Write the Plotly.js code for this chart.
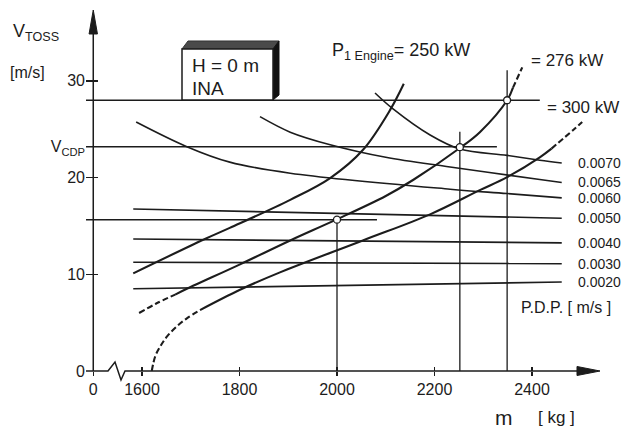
<!DOCTYPE html>
<html><head><meta charset="utf-8">
<script src="https://cdn.plot.ly/plotly-3.0.1.min.js"></script>
<style>html,body{margin:0;padding:0;background:#fff}#chart{width:625px;height:428px}</style>
</head><body><div id="chart"></div>
<script>
// ---------------- data ----------------
const xTickVals = [1500, 1600, 1800, 2000, 2200, 2400];
const xTickText = ['0', '1600', '1800', '2000', '2200', '2400'];
const yTickVals = [0, 10, 20, 23.2, 30];
const yTickText = ['0', '10', '20', 'V<sub>CDP</sub>', '30'];

// engine power curves (m [kg], V [m/s])
const p250M = [1582, 1729, 1780, 1904, 1986, 2053, 2109, 2137];
const p250V = [10.1, 13.65, 14.8, 17.7, 19.95, 22.85, 27.0, 29.7];
const p276M = [1594, 1630, 1668, 1692, 1800, 1904, 1996, 2100, 2156, 2252, 2293, 2349, 2361, 2380];
const p276V = [6.0, 7.0, 7.9, 8.5, 11.0, 13.5, 15.6, 18.1, 19.75, 23.06, 24.7, 28.0, 29.3, 31.4];
const p300M = [1620, 1627, 1637, 1651, 1671, 1692, 1719, 1801, 1883, 2053, 2191, 2293, 2349, 2416, 2440, 2484, 2503];
const p300V = [0, 1.5, 2.5, 3.55, 4.6, 5.45, 6.3, 8.4, 10.2, 13.5, 16.2, 18.7, 20.05, 22.1, 23.0, 24.9, 25.75];

// P.D.P. curves
const pdpLabels = ['0.0070', '0.0065', '0.0060', '0.0050', '0.0040', '0.0030', '0.0020'];
const pdp70M = [2078, 2115, 2191, 2252, 2349, 2416, 2461];
const pdp70V = [28.75, 27.1, 24.4, 22.95, 22.3, 21.8, 21.5];
const pdp65M = [1842, 1904, 1986, 2100, 2232, 2416, 2461];
const pdp65V = [26.3, 24.7, 23.4, 22.1, 21.1, 19.8, 19.5];
const pdp60M = [1588, 1692, 1780, 1904, 2232, 2349, 2461];
const pdp60V = [25.75, 23.2, 21.6, 20.45, 18.8, 18.35, 17.9];
const pdp50M = [1582, 2461];
const pdp50V = [16.75, 15.8];
const pdp40M = [1582, 2461];
const pdp40V = [13.65, 13.25];
const pdp30M = [1582, 2461];
const pdp30V = [11.25, 11.1];
const pdp20M = [1582, 2461];
const pdp20V = [8.5, 9.2];

// reference lines
const vTossM = [1485.1, 2416];
const vToss = 28.0;
const vCdpM = [1485.1, 2328];
const vCdp = 23.2;
const vLowM = [1485.1, 2082];
const vLow = 15.65;
const vertM = [2000, 2252, 2349];
const vertTop = [15.65, 24.75, 31.1];
const ptM = [2000, 2252, 2349];
const ptV = [15.65, 23.15, 28.0];

// ---------------- geometry ----------------
const L = 86, T = 10, W = 514, H = 361;
const X0 = 1485.1, X1 = 2539.5, Y1 = 37.33;
const fx = px => (px - L) / W;
const fy = py => (T + H - py) / H;
const INK = '#1c1c1c';
const FONT = 'Liberation Sans, Arial, sans-serif';

const traces = [];
function line(xs, ys, w, dash) {
  traces.push({x: xs, y: ys, type: 'scatter', mode: 'lines', hoverinfo: 'skip', showlegend: false,
    line: {color: INK, width: w, dash: dash || 'solid', shape: xs.length > 2 ? 'spline' : 'linear', smoothing: 1}});
}
function curve(ms, vs, w, solidFrom, solidTo) {
  const head = [[], []], mid = [[], []], tail = [[], []];
  ms.forEach((m, i) => {
    if (m <= solidFrom) { head[0].push(m); head[1].push(vs[i]); }
    if (m >= solidFrom && m <= solidTo) { mid[0].push(m); mid[1].push(vs[i]); }
    if (m >= solidTo) { tail[0].push(m); tail[1].push(vs[i]); }
  });
  if (head[0].length > 1) line(head[0], head[1], w, '6px,3px');
  line(mid[0], mid[1], w);
  if (tail[0].length > 1) line(tail[0], tail[1], w, '6px,3px');
}

// reference lines
line(vTossM, [vToss, vToss], 1.5);
line(vCdpM, [vCdp, vCdp], 1.5);
line(vLowM, [vLow, vLow], 1.5);
vertM.forEach((m, i) => line([m, m], [0, vertTop[i]], 1.3));

// P.D.P.
const pdpSets = [[pdp70M, pdp70V], [pdp65M, pdp65V], [pdp60M, pdp60V], [pdp50M, pdp50V],
                 [pdp40M, pdp40V], [pdp30M, pdp30V], [pdp20M, pdp20V]];
pdpSets.forEach(s => line(s[0], s[1], 1.6));

// power curves
curve(p250M, p250V, 2.1, -1, 1e9);
curve(p276M, p276V, 2.1, 1668, 2361);
curve(p300M, p300V, 2.1, 1719, 2440);

traces.push({x: ptM, y: ptV, type: 'scatter', mode: 'markers', hoverinfo: 'skip', showlegend: false,
  marker: {size: 7, color: '#fff', line: {color: INK, width: 1.3}}});

// ---------------- shapes ----------------
const path = pts => pts.map((p, i) => (i ? 'L' : 'M') + fx(p[0]).toFixed(5) + ',' + fy(p[1]).toFixed(5)).join(' ');
const axX = L + (1500 - X0) * W / (X1 - X0);
const axY = T + H;
const shapes = [
  {type: 'path', xref: 'paper', yref: 'paper', line: {color: INK, width: 1.5},
   path: path([[86, axY], [108, axY], [115, axY - 9], [121, axY + 9], [125, axY], [590, axY]])},
  {type: 'path', xref: 'paper', yref: 'paper', line: {color: INK, width: 1}, fillcolor: INK,
   path: path([[600, axY], [577, axY - 4.5], [577, axY + 4.5]]) + ' Z'},
  {type: 'path', xref: 'paper', yref: 'paper', line: {color: INK, width: 1.5},
   path: path([[axX, axY], [axX, 28]])},
  {type: 'path', xref: 'paper', yref: 'paper', line: {color: INK, width: 1}, fillcolor: INK,
   path: path([[axX, 10], [axX - 4.2, 34], [axX + 4.2, 34]]) + ' Z'},
  // the "H = 0 m / INA" box
  {type: 'path', xref: 'paper', yref: 'paper', line: {color: '#333', width: 1}, fillcolor: '#4a4a4a',
   path: path([[182, 49], [188, 41], [279, 41], [273, 49]]) + ' Z'},
  {type: 'path', xref: 'paper', yref: 'paper', line: {color: '#111', width: 1}, fillcolor: '#111',
   path: path([[273, 49], [279, 41], [279, 95], [273, 100]]) + ' Z'},
  {type: 'rect', xref: 'paper', yref: 'paper', x0: fx(182), x1: fx(273), y0: fy(100), y1: fy(49),
   fillcolor: '#fff', line: {color: INK, width: 1.5}}
];

// ---------------- annotations ----------------
function txt(text, px, py, size, xanchor, yref, yval) {
  return {text: text, xref: 'paper', yref: yref || 'paper', x: fx(px), y: yref ? yval : fy(py),
    xanchor: xanchor || 'left', yanchor: 'middle', showarrow: false,
    font: {family: FONT, size: size, color: INK}};
}
const annotations = [
  txt('V<sub>TOSS</sub>', 11, 33, 18),
  txt('[m/s]', 8, 72, 16),
  txt('P<sub>1 Engine</sub>= 250 kW', 330, 51, 18),
  txt('= 276 kW', 529, 60, 17),
  txt('= 300 kW', 545, 108, 17),
  txt('P.D.P. [ m/s ]', 519, 307, 16),
  txt('m', 504, 417, 21, 'center'),
  txt('[ kg ]', 536, 417, 17),
  txt('H = 0 m', 190, 65, 19),
  txt('INA', 190, 88, 19)
];
pdpSets.forEach((s, i) => annotations.push(txt(pdpLabels[i], 576, 0, 14, 'left', 'y', s[1][s[1].length - 1])));

const layout = {
  width: 625, height: 428,
  margin: {l: L, r: 625 - L - W, t: T, b: 428 - T - H},
  paper_bgcolor: '#fff', plot_bgcolor: '#fff',
  showlegend: false,
  font: {family: FONT, color: INK},
  xaxis: {range: [X0, X1], tickvals: xTickVals, ticktext: xTickText, ticks: 'outside', ticklen: 4,
          tickwidth: 1.3, tickcolor: INK, showgrid: false, zeroline: false, showline: false,
          tickfont: {family: FONT, size: 16, color: INK}, fixedrange: true},
  xaxis2: {range: [X0, X1], overlaying: 'x', anchor: 'y', side: 'bottom', tickvals: xTickVals.slice(1),
           ticks: 'inside', ticklen: 4, tickwidth: 1.3, tickcolor: INK, showticklabels: false,
           showgrid: false, zeroline: false, showline: false, fixedrange: true},
  yaxis: {range: [0, Y1], tickvals: yTickVals, ticktext: yTickText, ticks: 'inside', ticklen: 12,
          tickwidth: 1.3, tickcolor: INK, showgrid: false, zeroline: false, showline: false,
          tickfont: {family: FONT, size: 16, color: INK}, fixedrange: true},
  shapes: shapes,
  annotations: annotations
};
traces.push({x: [X0], y: [0], xaxis: 'x2', type: 'scatter', mode: 'markers', marker: {opacity: 0}, hoverinfo: 'skip', showlegend: false});

Plotly.newPlot('chart', traces, layout, {staticPlot: true, displayModeBar: false});
</script>
</body></html>
